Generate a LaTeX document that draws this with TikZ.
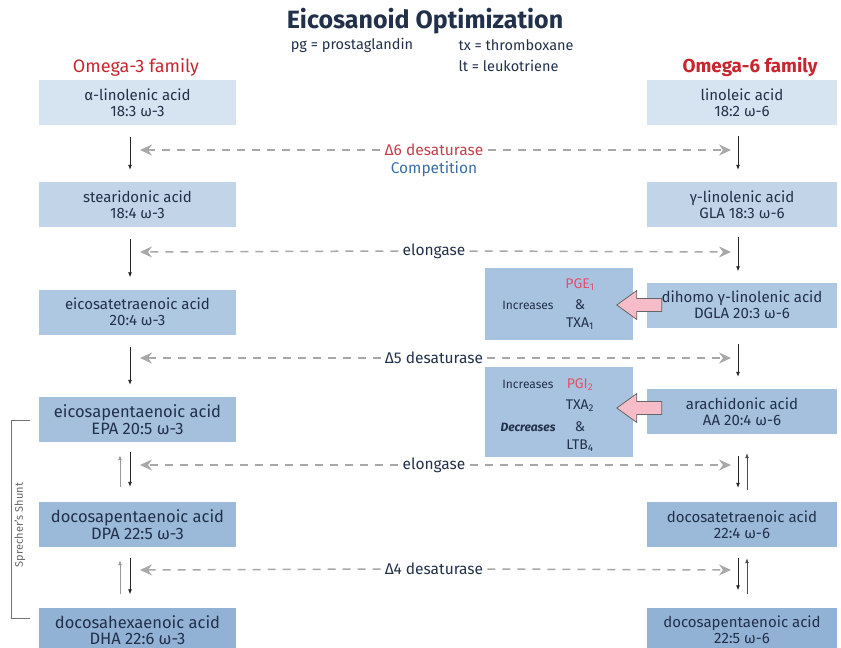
\documentclass[tikz,border=0pt]{standalone}
\usepackage{fontspec}
\setmainfont{Fira Sans}
\usetikzlibrary{arrows.meta,calc}

\definecolor{ink}{HTML}{22304A}
\definecolor{famred}{HTML}{C8262E}
\definecolor{enzred}{HTML}{C0404C}
\definecolor{compblue}{HTML}{3A6EA5}
\definecolor{pgred}{HTML}{E4506A}
\definecolor{pinkfill}{HTML}{F6BCC8}
\definecolor{boxA}{HTML}{D6E3F0}
\definecolor{boxB}{HTML}{C2D4E8}
\definecolor{boxC}{HTML}{AFC8E2}
\definecolor{boxD}{HTML}{A4C0DD}
\definecolor{boxE}{HTML}{9BB9D9}
\definecolor{boxF}{HTML}{92B2D5}
\definecolor{effbox}{HTML}{A8C3DF}
\definecolor{dashgray}{HTML}{A8A8A8}

\begin{document}
\begin{tikzpicture}[x=1pt,y=-1pt,
  acid/.style={rectangle, inner sep=0pt, minimum height=45pt, text=ink,
    font=\fontsize{15}{16}\selectfont, align=center},
  bigacid/.style={font=\fontsize{16.5}{16.5}\selectfont},
  leftacid/.style={acid, minimum width=197pt},
  rightacid/.style={acid, minimum width=190pt},
  effect/.style={rectangle, inner sep=0pt, fill=effbox, minimum width=148pt},
  efftext/.style={text=ink, inner sep=0pt, font=\fontsize{14}{15}\selectfont},
  efflabel/.style={text=ink, inner sep=0pt, font=\fontsize{12}{13}\selectfont},
  enzyme/.style={text=ink, inner sep=4pt, font=\fontsize{15.5}{17}\selectfont},
  downarr/.style={-{Latex[length=5pt,width=4pt]}, line width=0.8pt, black!85},
  uparr/.style={-{Latex[length=5pt,width=4pt]}, line width=0.8pt, black!40},
  uparrdark/.style={-{Latex[length=5pt,width=4pt]}, line width=0.8pt, black!70},
  compete/.style={-{Stealth[length=12pt,width=11pt,inset=4pt]}, dashgray,
    line width=1.5pt, dash pattern=on 8pt off 7pt},
  blockarr/.style={fill=pinkfill, draw=black!60, line width=0.8pt, line join=miter}
]
\useasboundingbox (0,0) rectangle (841,648);

% heading and legend
\node[text=ink, font=\bfseries\fontsize{25}{28}\selectfont] (title) at (425,21) {Eicosanoid Optimization};
\node[text=ink, font=\fontsize{14.5}{16}\selectfont] (pg) at (352,45) {pg = prostaglandin};
\node[text=ink, font=\fontsize{14.5}{16}\selectfont, anchor=west] (tx) at (455,45) {tx = thromboxane};
\node[text=ink, font=\fontsize{14.5}{16}\selectfont, anchor=west] (lt) at (455,66) {lt = leukotriene};
\node[text=famred, font=\fontsize{18}{20}\selectfont] (om3) at (136,67) {Omega-3 family};
\node[text=famred, font=\bfseries\fontsize{18.8}{20}\selectfont] (om6) at (750,67) {Omega-6 family};

% omega-3 pathway
\node[leftacid, fill=boxA] (a1) at (137.5,102.5) {α-linolenic acid\\18:3 ω-3};
\node[leftacid, fill=boxB] (a2) at (137.5,204.5) {stearidonic acid\\18:4 ω-3};
\node[leftacid, fill=boxC] (a3) at (137.5,312) {eicosatetraenoic acid\\20:4 ω-3};
\node[leftacid, bigacid, fill=boxD] (a4) at (137.5,419.5) {eicosapentaenoic acid\\EPA 20:5 ω-3};
\node[leftacid, bigacid, fill=boxE] (a5) at (137.5,524.5) {docosapentaenoic acid\\DPA 22:5 ω-3};
\node[leftacid, bigacid, fill=boxF] (a6) at (137.5,630) {docosahexaenoic acid\\DHA 22:6 ω-3};

% omega-6 pathway
\node[rightacid, fill=boxA] (b1) at (742,102.5) {linoleic acid\\18:2 ω-6};
\node[rightacid, fill=boxB] (b2) at (742,204.5) {γ-linolenic acid\\GLA 18:3 ω-6};
\node[rightacid, fill=boxC] (b3) at (742,305) {dihomo γ-linolenic acid\\DGLA 20:3 ω-6};
\node[rightacid, fill=boxD] (b4) at (742,411.5) {arachidonic acid\\AA 20:4 ω-6};
\node[rightacid, fill=boxE] (b5) at (742,524.5) {docosatetraenoic acid\\22:4 ω-6};
\node[rightacid, fill=boxF] (b6) at (742,630) {docosapentaenoic acid\\22:5 ω-6};

% omega-3 conversion steps
\draw[downarr, shorten <=12pt, shorten >=12pt] ([xshift=-7.5]a1.south) -- ([xshift=-7.5]a2.north);
\draw[downarr, shorten <=12pt, shorten >=12pt] ([xshift=-7.5]a2.south) -- ([xshift=-7.5]a3.north);
\draw[downarr, shorten <=12pt, shorten >=12pt] ([xshift=-7.5]a3.south) -- ([xshift=-7.5]a4.north);
\draw[downarr, shorten <=10pt, shorten >=15pt] ([xshift=-7.5]a4.south) -- ([xshift=-7.5]a5.north);
\draw[uparr, shorten <=15pt, shorten >=13pt] ([xshift=-17.5]a5.north) -- ([xshift=-17.5]a4.south);
\draw[downarr, shorten <=11pt, shorten >=13pt] ([xshift=-7.5]a5.south) -- ([xshift=-7.5]a6.north);
\draw[uparr, shorten <=13pt, shorten >=13pt] ([xshift=-17.5]a6.north) -- ([xshift=-17.5]a5.south);

% omega-6 conversion steps
\draw[downarr, shorten <=11pt, shorten >=12pt] ([xshift=-4]b1.south) -- ([xshift=-4]b2.north);
\draw[downarr, shorten <=10pt, shorten >=11pt] ([xshift=-4]b2.south) -- ([xshift=-4]b3.north);
\draw[downarr, shorten <=16pt, shorten >=12pt] ([xshift=-4]b3.south) -- ([xshift=-4]b4.north);
\draw[downarr, shorten <=22pt, shorten >=14pt] ([xshift=-4]b4.south) -- ([xshift=-4]b5.north);
\draw[uparrdark, shorten <=12pt, shorten >=19pt] ([xshift=5]b5.north) -- ([xshift=5]b4.south);
\draw[downarr, shorten <=11pt, shorten >=17pt] ([xshift=-4]b5.south) -- ([xshift=-4]b6.north);
\draw[uparrdark, shorten <=13pt, shorten >=11pt] ([xshift=5]b6.north) -- ([xshift=5]b5.south);

% shared enzymes: competition between the two families
\node[enzyme, text=enzred] (e1) at (434,150) {Δ6 desaturase};
\node[text=compblue, inner sep=0pt, font=\fontsize{15.5}{17}\selectfont] (comp) at (434,169) {Competition};
\node[enzyme] (e2) at (434,251) {elongase};
\node[enzyme] (e3) at (434,358) {Δ5 desaturase};
\node[enzyme] (e4) at (434,465) {elongase};
\node[enzyme] (e5) at (434,569) {Δ4 desaturase};

\coordinate (l1) at (140,150); \coordinate (r1) at (731,150);
\coordinate (l2) at (140,252); \coordinate (r2) at (731,252);
\coordinate (l3) at (140,358); \coordinate (r3) at (731,358);
\coordinate (l4) at (140,465); \coordinate (r4) at (731,465);
\coordinate (l5) at (140,570); \coordinate (r5) at (731,570);
\foreach \i in {1,...,5}{
  \draw[compete] (e\i.west) -- (l\i);
  \draw[compete] (e\i.east) -- (r\i);
}

% eicosanoid effects
\node[effect, minimum height=72pt] (inc1) at (559,304) {};
\node[efflabel] (inc1a) at (528,305) {Increases};
\node[efftext, text=pgred] (pge) at (580,285) {PGE\textsubscript{1}};
\node[efftext] (amp1) at (580,305) {\&};
\node[efftext] (txa1) at (580,324) {TXA\textsubscript{1}};

\node[effect, minimum height=90pt] (inc2) at (559,412) {};
\node[efflabel] (inc2a) at (528,384) {Increases};
\node[efftext, text=pgred] (pgi) at (580,385) {PGI\textsubscript{2}};
\node[efftext] (txa2) at (580,406) {TXA\textsubscript{2}};
\node[efflabel, font=\bfseries\itshape\fontsize{12}{13}\selectfont] (dec2) at (528,427) {Decreases};
\node[efftext] (amp2) at (580,427) {\&};
\node[efftext] (ltb) at (580,446) {LTB\textsubscript{4}};

\draw[blockarr] ($(b3.west)+(15,-6.5)$) -- ++(-25,0) -- ++(0,-8) -- ++(-20,14.5)
  -- ++(20,14.5) -- ++(0,-8) -- ++(25,0) -- cycle;
\draw[blockarr] ($(b4.west)+(15,-3.5-6.5)$) -- ++(-25,0) -- ++(0,-8) -- ++(-20,14.5)
  -- ++(20,14.5) -- ++(0,-8) -- ++(25,0) -- cycle;

% Sprecher's shunt bracket
\draw[black!55, line width=0.8pt] (30,420) -- (11,420) -- (11,618) -- (30,618);
\node[text=black!60, rotate=90, inner sep=0pt, font=\fontsize{11}{12}\selectfont] (shunt) at (20,525) {Sprecher's Shunt};
\end{tikzpicture}
\end{document}
